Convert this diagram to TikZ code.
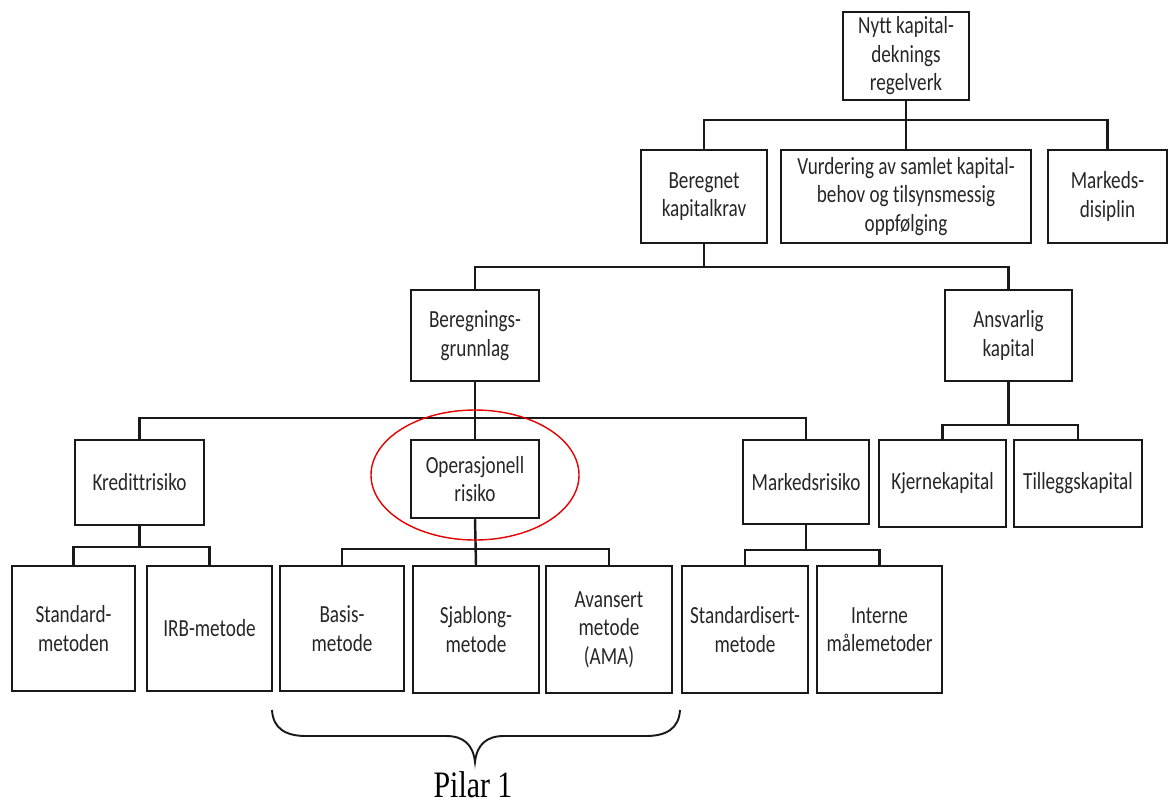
\documentclass[tikz,border=0pt]{standalone}
\usepackage{fontspec}
\setmainfont{Carlito}[FakeStretch=0.78, Ligatures=NoCommon]
\newfontfamily\pilarfont{Liberation Serif}
\newdimen\px
\px=0.02cm
\tikzset{
  box/.style={draw=black!90, line width=1.4pt, align=center, inner sep=0pt,
    text=black!85, font=\fontsize{14}{16.2}\selectfont},
  conn/.style={draw=black!90, line width=1.4pt},
  ring/.style={draw=red!90!black, line width=0.8pt},
  bracket/.style={draw=black!90, line width=1.1pt}
}
% place a box by its left, top, right, bottom edges (in px)
\newcommand\pbox[6]{%
  \node[box, minimum width={(#4-#2)*\px}, minimum height={(#5-#3)*\px}]
    (#1) at ({(#2+#4)/2},{(#3+#5)/2}) {#6};}
\begin{document}
\begin{tikzpicture}[x=0.02cm,y=-0.02cm]
\useasboundingbox (0,0) rectangle (1169,805);

% level 0
\pbox{top}{843}{12}{969}{100}{Nytt kapital-\\deknings\\regelverk}
% level 1
\pbox{berk}{641}{150}{767}{243}{Beregnet\\kapitalkrav}
\pbox{vur}{781}{150}{1031}{243}{Vurdering av samlet kapital-\\behov og tilsynsmessig\\oppfølging}
\pbox{mds}{1048}{150}{1167}{243}{Markeds-\\disiplin}
% level 2
\pbox{bgr}{411}{290}{539}{381}{Beregnings-\\grunnlag}
\pbox{ans}{945}{290}{1072}{381}{Ansvarlig\\kapital}
% level 3
\pbox{kre}{75}{440}{204}{525}{Kredittrisiko}
\pbox{ops}{411}{440}{539}{518}{Operasjonell\\risiko}
\pbox{mkr}{743}{440}{869}{524}{Markedsrisiko}
\pbox{kje}{879}{440}{1006}{527}{Kjernekapital}
\pbox{til}{1014}{440}{1142}{527}{Tilleggskapital}
% level 4
\pbox{std}{12}{566}{135}{691}{Standard-\\metoden}
\pbox{irb}{147}{566}{272}{691}{IRB-metode}
\pbox{bas}{280}{566}{404}{691}{Basis-\\metode}
\pbox{sja}{413}{566}{539}{693}{Sjablong-\\metode}
\pbox{ava}{546}{566}{672}{693}{Avansert\\metode\\(AMA)}
\pbox{sdm}{682}{566}{808}{693}{Standardisert-\\metode}
\pbox{int}{817}{566}{942}{693}{Interne\\målemetoder}

% bus junctions
\coordinate (j1) at (906,120);
\coordinate (j2) at (704,267);
\coordinate (j3) at (475,418);
\coordinate (j4) at (1008.5,425);
\coordinate (j5) at (139.5,547);
\coordinate (j6) at (475,549);
\coordinate (j7) at (806,550);

% connectors
\draw[conn] (top.south) -- (vur.north);
\draw[conn] (berk.north) |- (j1) -| (mds.north);
\draw[conn] (berk.south) -- (j2);
\draw[conn] (bgr.north) |- (j2) -| (ans.north);
\draw[conn] (bgr.south) -- (ops.north);
\draw[conn] (kre.north) |- (j3) -| (mkr.north);
\draw[conn] (ans.south) -- (j4);
\draw[conn] (kje.north) |- (j4) -| (til.north);
\draw[conn] (kre.south) -- (j5);
\draw[conn] (std.north) |- (j5) -| (irb.north);
\draw[conn] (ops.south) -- (sja.north);
\draw[conn] (bas.north) |- (j6) -| (ava.north);
\draw[conn] (mkr.south) -- (j7);
\draw[conn] (sdm.north) |- (j7) -| (int.north);

% highlight ring
\draw[ring] (475,475) ellipse [x radius=104, y radius=65];

% brace under the operational-risk methods
\coordinate (bl) at (272,710);
\coordinate (br) at (680,710);
\coordinate (tip) at (475,762);
\draw[bracket] (bl) .. controls (273,728) and (285,736) .. (306,736)
  -- (446,736) .. controls (463,736) and (473,744) .. (tip)
  .. controls (477,744) and (487,736) .. (504,736)
  -- (646,736) .. controls (667,736) and (679,728) .. (br);
\node[text=black, font=\pilarfont\fontsize{17}{20}\selectfont] (pil) at (473,785)
  {\scalebox{1}[1.25]{Pilar 1}};
\end{tikzpicture}
\end{document}
